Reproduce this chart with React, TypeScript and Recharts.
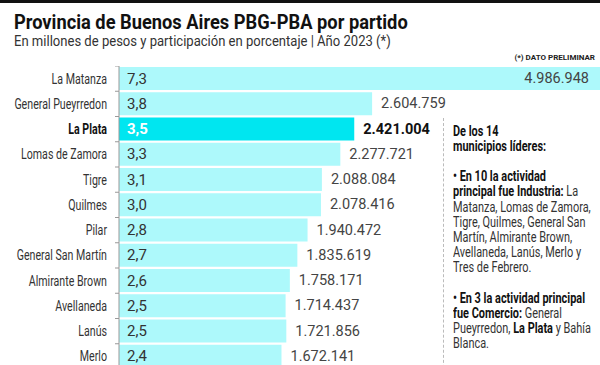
import { Bar, BarChart, Cell, LabelList, XAxis, YAxis } from 'recharts'

const partidos = [
  'La Matanza', 'General Pueyrredon', 'La Plata', 'Lomas de Zamora', 'Tigre', 'Quilmes',
  'Pilar', 'General San Martín', 'Almirante Brown', 'Avellaneda', 'Lanús', 'Merlo',
]
const pbg = [
  4986948, 2604759, 2421004, 2277721, 2088084, 2078416,
  1940472, 1835619, 1758171, 1714437, 1721856, 1672141,
]
const participacion = [7.3, 3.8, 3.5, 3.3, 3.1, 3.0, 2.8, 2.7, 2.6, 2.5, 2.5, 2.4]
const destacado = 'La Plata'

// texto lateral: cada línea es una lista de [texto, negrita]
const nota: [string, boolean][][] = [
  [['De los 14', true]],
  [['municipios líderes:', true]],
  [],
  [['• En 10 la actividad', true]],
  [['principal fue Industria:', true], [' La', false]],
  [['Matanza, Lomas de Zamora,', false]],
  [['Tigre, Quilmes, General San', false]],
  [['Martín, Almirante Brown,', false]],
  [['Avellaneda, Lanús, Merlo y', false]],
  [['Tres de Febrero.', false]],
  [],
  [['• En 3 la actividad principal', true]],
  [['fue Comercio:', true], [' General', false]],
  [['Pueyrredon, ', false], ['La Plata', true], [' y Bahía', false]],
  [['Blanca.', false]],
]

const data = partidos.map((name, i) => ({ name, pbg: pbg[i], pct: participacion[i] }))

const SANS = "'Roboto', 'Liberation Sans', sans-serif"
const BAR = '#adf9fb'
const BAR_HI = '#00e6f0'
const ROW = 25.25
const SQUEEZE = 0.76

const fmtMiles = (v: number) => v.toLocaleString('de-DE')
const fmtPct = (v: number) => v.toFixed(1).replace('.', ',')

function CategoryTick(props: any) {
  const { y, payload, index } = props
  const hi = payload.value === destacado
  return (
    <g>
      <line x1={115} x2={119} y1={y - ROW / 2} y2={y - ROW / 2} stroke="#999" />
      {index === partidos.length - 1 && (
        <line x1={115} x2={119} y1={y + ROW / 2} y2={y + ROW / 2} stroke="#999" />
      )}
      <text
        transform={`translate(107, ${y}) scale(${SQUEEZE}, 1)`}
        textAnchor="end"
        dominantBaseline="central"
        fontFamily={SANS}
        fontSize={14}
        fontWeight={hi ? 700 : 400}
        fill={hi ? '#111' : '#333'}
      >
        {payload.value}
      </text>
    </g>
  )
}

function PctLabel(props: any) {
  const { x, y, height, index } = props
  const hi = partidos[index] === destacado
  return (
    <text
      x={x + 8}
      y={y + height / 2}
      dominantBaseline="central"
      fontFamily={SANS}
      fontSize={15}
      fontWeight={hi ? 700 : 400}
      fill={hi ? '#fff' : '#333'}
    >
      {fmtPct(participacion[index])}
    </text>
  )
}

function ValueLabel(props: any) {
  const { x, y, width, height, index } = props
  const hi = partidos[index] === destacado
  const inside = index === 0
  return (
    <text
      x={inside ? 589 : x + width + 9}
      y={y + height / 2}
      textAnchor={inside ? 'end' : 'start'}
      dominantBaseline="central"
      fontFamily={SANS}
      fontSize={14.5}
      fontWeight={hi ? 700 : 400}
      fill={hi ? '#111' : '#444'}
    >
      {fmtMiles(pbg[index])}
    </text>
  )
}

const squeezed = (scale: number): React.CSSProperties => ({
  transform: `scaleX(${scale})`,
  transformOrigin: 'left top',
  whiteSpace: 'nowrap',
})

export default function App() {
  return (
    <div
      style={{
        position: 'relative',
        width: 600,
        height: 365,
        overflow: 'hidden',
        background: '#fff',
        color: '#333',
        fontFamily: SANS,
      }}
    >
      <style>{'body{margin:0}'}</style>
      <div style={{ position: 'absolute', left: 0, top: 0, width: 600, height: 3, background: '#111' }} />
      <div
        style={{
          position: 'absolute',
          left: 14,
          top: 11.5,
          fontWeight: 700,
          fontSize: 21,
          lineHeight: '21px',
          color: '#111',
          ...squeezed(0.87),
        }}
      >
        Provincia de Buenos Aires PBG-PBA por partido
      </div>
      <div
        style={{
          position: 'absolute',
          left: 14,
          top: 35,
          fontSize: 14.5,
          lineHeight: '13px',
          color: '#333',
          ...squeezed(0.9),
        }}
      >
        En millones de pesos y participación en porcentaje | Año 2023 (*)
      </div>
      <div
        style={{
          position: 'absolute',
          right: 5,
          top: 53,
          fontWeight: 700,
          fontSize: 8,
          color: '#222',
          whiteSpace: 'nowrap',
        }}
      >
        (*) DATO PRELIMINAR
      </div>

      <div style={{ position: 'absolute', left: 0, top: 66 }}>
        <BarChart
          width={600}
          height={ROW * partidos.length}
          data={data}
          layout="vertical"
          margin={{ top: 0, right: 0, bottom: 0, left: 0 }}
          barCategoryGap={1}
        >
          <XAxis type="number" hide domain={[0, 4950000]} allowDataOverflow />
          <YAxis
            type="category"
            dataKey="name"
            width={119}
            axisLine={{ stroke: '#999' }}
            tickLine={false}
            interval={0}
            tick={CategoryTick}
          />
          <Bar dataKey="pbg" isAnimationActive={false}>
            {data.map((d) => (
              <Cell key={d.name} fill={d.name === destacado ? BAR_HI : BAR} />
            ))}
            <LabelList dataKey="pct" content={PctLabel} />
            <LabelList dataKey="pbg" content={ValueLabel} />
          </Bar>
        </BarChart>
      </div>

      <div
        style={{
          position: 'absolute',
          left: 443,
          top: 118,
          height: 260,
          borderLeft: '1px dashed #bbb',
        }}
      />
      {nota.map((line, i) =>
        line.length === 0 ? null : (
          <div
            key={i}
            style={{
              position: 'absolute',
              left: 453,
              top: 123.5 + i * 15.2,
              fontSize: 14,
              lineHeight: '15px',
              color: '#333',
              ...squeezed(0.78),
            }}
          >
            {line.map(([t, b], j) => (
              <span key={j} style={b ? { fontWeight: 700, color: '#111' } : undefined}>
                {t}
              </span>
            ))}
          </div>
        ),
      )}
    </div>
  )
}
